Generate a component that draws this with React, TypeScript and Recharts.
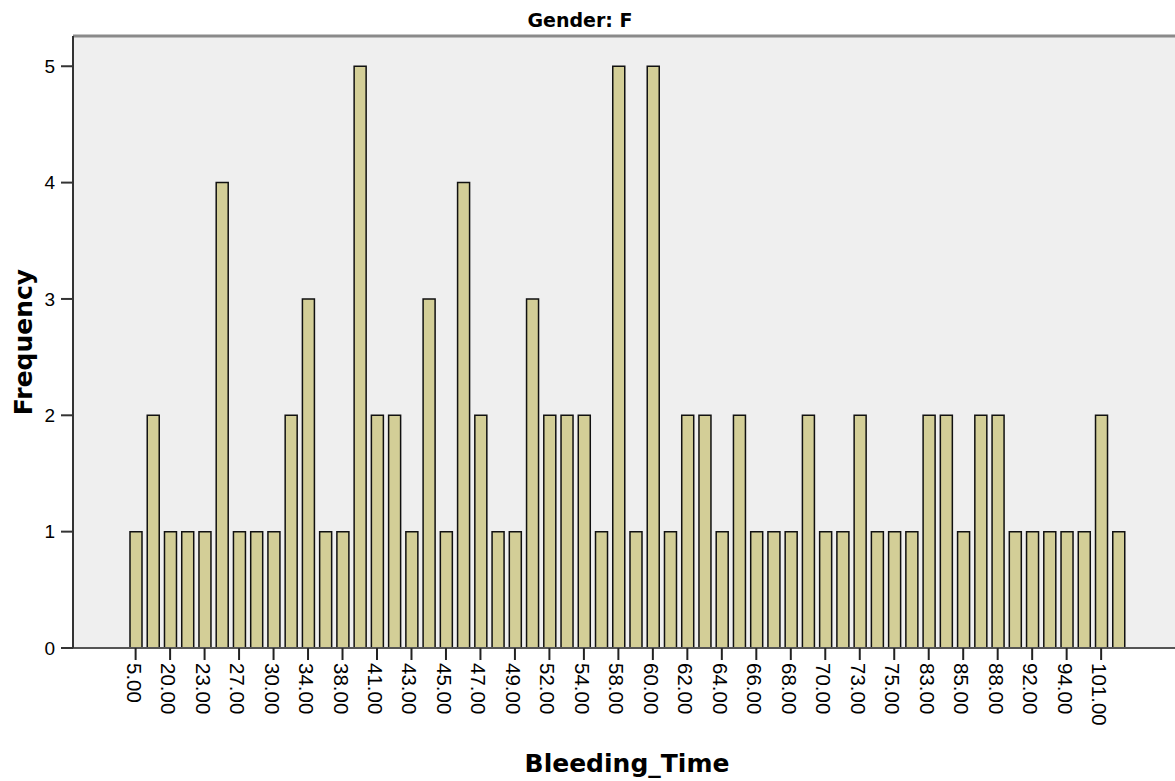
import { BarChart, Bar, XAxis, YAxis, CartesianGrid, ReferenceLine } from "recharts"

// Bleeding_Time values (only every other one is labelled on the axis)
const bleedingTimes = [
  5, 15, 20, 22, 23, 25, 27, 28, 30, 32,
  34, 35, 38, 40, 41, 42, 43, 44, 45, 46,
  47, 48, 49, 50, 52, 53, 54, 55, 58, 59,
  60, 61, 62, 63, 64, 65, 66, 67, 68, 69,
  70, 72, 73, 74, 75, 80, 83, 84, 85, 86,
  88, 90, 92, 93, 94, 95, 101, 105,
]

const frequencies = [
  1, 2, 1, 1, 1, 4, 1, 1, 1, 2,
  3, 1, 1, 5, 2, 2, 1, 3, 1, 4,
  2, 1, 1, 3, 2, 2, 2, 1, 5, 1,
  5, 1, 2, 2, 1, 2, 1, 1, 1, 2,
  1, 1, 2, 1, 1, 1, 2, 2, 1, 2,
  2, 1, 1, 1, 1, 1, 2, 1,
]

const yTicks = [0, 1, 2, 3, 4, 5]
const Y_MAX = 5.26

const chartData = bleedingTimes.map((t, i) => ({
  label: t.toFixed(2),
  count: frequencies[i],
}))

const TITLE_FONT = "'DejaVu Sans', Verdana, sans-serif"
const TICK_FONT = "'Liberation Sans', Arial, sans-serif"

// rotated x tick labels, reading top to bottom
const XTick = ({ x, y, payload }: any) => (
  <text
    x={x - 1.5}
    y={y}
    transform={`rotate(90, ${x - 1.5}, ${y})`}
    textAnchor="start"
    dominantBaseline="central"
    fontSize={20.5}
    fontFamily={TICK_FONT}
    fill="#000"
  >
    {payload.value}
  </text>
)

export default function App() {
  return (
    <div style={{ position: "absolute", left: 0, top: 0, width: 1175, height: 781, overflow: "hidden", background: "#fff" }}>
      <BarChart
        width={1175}
        height={781}
        data={chartData}
        margin={{ top: 36, right: 0, left: 0, bottom: 0 }}
        barSize={12}
      >
        <CartesianGrid horizontal={false} vertical={false} fill="#efefef" stroke="none" />
        <XAxis
          dataKey="label"
          interval={1}
          height={133}
          padding={{ left: 54, right: 48 }}
          tick={<XTick />}
          tickSize={12}
          tickMargin={3}
          axisLine={{ stroke: "#555", strokeWidth: 2 }}
          tickLine={{ stroke: "#222", strokeWidth: 2 }}
        />
        <YAxis
          domain={[0, Y_MAX]}
          ticks={yTicks}
          allowDataOverflow
          width={73}
          tickSize={12}
          tickMargin={6}
          tick={{ fill: "#000", fontSize: 19, fontFamily: TICK_FONT }}
          axisLine={{ stroke: "#333", strokeWidth: 2 }}
          tickLine={{ stroke: "#333", strokeWidth: 2 }}
        />
        <ReferenceLine y={Y_MAX} stroke="#8a8a8a" strokeWidth={3} ifOverflow="visible" />
        <Bar
          dataKey="count"
          fill="#d3ce97"
          stroke="#111"
          strokeWidth={1.5}
          isAnimationActive={false}
        />
        <text x={580} y={27} textAnchor="middle" fontSize={19} fontWeight="bold" fontFamily={TITLE_FONT} fill="#000">
          Gender: F
        </text>
        <text x={627} y={772} textAnchor="middle" fontSize={25} fontWeight="bold" fontFamily={TITLE_FONT} fill="#000">
          Bleeding_Time
        </text>
        <text
          x={32}
          y={342}
          transform="rotate(-90, 32, 342)"
          textAnchor="middle"
          fontSize={25}
          fontWeight="bold"
          fontFamily={TITLE_FONT}
          fill="#000"
        >
          Frequency
        </text>
      </BarChart>
    </div>
  )
}
